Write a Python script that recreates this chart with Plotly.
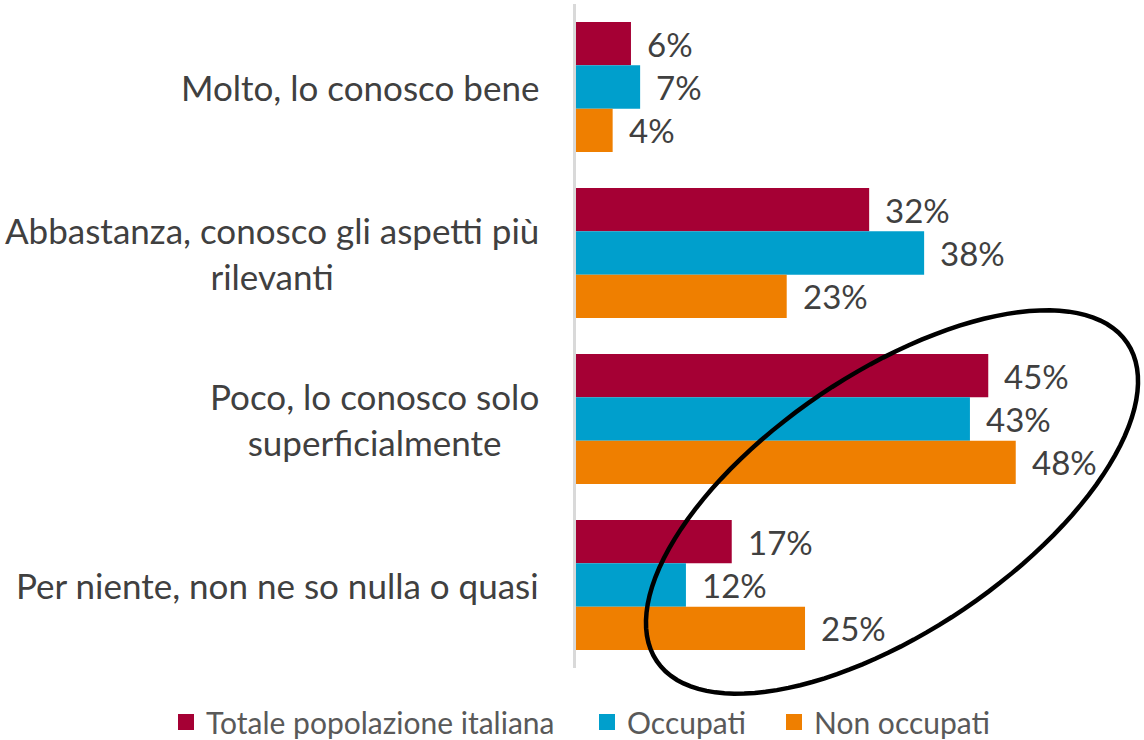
import numpy as np
import plotly.graph_objects as go

categories = ["Molto, lo conosco bene",
              "Abbastanza, conosco gli aspetti più<br>rilevanti",
              "Poco, lo conosco solo<br>superficialmente",
              "Per niente, non ne so nulla o quasi"]
series_names = ["Totale popolazione italiana", "Occupati", "Non occupati"]
totale = [6, 32, 45, 17]
occupati = [7, 38, 43, 12]
non_occupati = [4, 23, 48, 25]
colors = ["#A50034", "#009FCC", "#EF7F00"]

W, H = 1144, 740
L, R, T, B = 576, 0, 4, 72
PW, PH = W - L - R, H - T - B
XMAX = 62
FONT = "Lato"
TXT = "#404040"
LEG_TXT = "#595959"

def px_x(px):
    return (px - L) / PW

def px_y(py):
    return (H - B - py) / PH

fig = go.Figure()
legend_ids = ["legend", "legend2", "legend3"]
for name, vals, col in zip(series_names, [totale, occupati, non_occupati], colors):
    fig.add_trace(go.Bar(y=categories, x=vals, name=name, orientation="h", showlegend=False,
                         marker=dict(color=col, line=dict(width=0))))
for name, col, lid in zip(series_names, colors, legend_ids):
    fig.add_trace(go.Scatter(x=[None], y=[None], name=name, mode="markers", legend=lid,
                             marker=dict(color=col, symbol="square", size=18)))

annotations = []
n_series = 3
group_frac = 1 - 0.217
for si, vals in enumerate([totale, occupati, non_occupati]):
    for ci, v in enumerate(vals):
        off = (si - (n_series - 1) / 2) * group_frac / n_series
        annotations.append(dict(x=v, y=ci + off, xref="x", yref="y", text=f"{v}%",
                                showarrow=False, xanchor="left", yanchor="middle",
                                xshift=14, font=dict(family=FONT, size=33, color=TXT)))
for ci, c in enumerate(categories):
    annotations.append(dict(x=px_x(541), y=ci, xref="paper", yref="y", text=c,
                            showarrow=False, xanchor="right", yanchor="middle", align="center",
                            font=dict(family=FONT, size=35, color=TXT)))

# ellipse highlight (pixel geometry -> paper coords)
cx, cy, a, b, th = 892, 502, 284, 129, np.deg2rad(34.1)
t = np.linspace(0, 2 * np.pi, 121)
ex = cx + a * np.cos(th) * np.cos(t) - b * np.sin(th) * np.sin(t)
ey = cy - (a * np.sin(th) * np.cos(t) + b * np.cos(th) * np.sin(t))
path = "M " + " L ".join(f"{px_x(X):.5f},{px_y(Y):.5f}" for X, Y in zip(ex, ey)) + " Z"

leg_common = dict(orientation="h", xanchor="left", y=px_y(722), yanchor="middle",
                  font=dict(family=FONT, size=30, color=LEG_TXT), itemclick=False,
                  bgcolor="rgba(0,0,0,0)", itemsizing="trace")
fig.update_layout(
    width=W, height=H, margin=dict(l=L, r=R, t=T, b=B, autoexpand=False),
    paper_bgcolor="white", plot_bgcolor="white",
    barmode="group", bargap=0.217, bargroupgap=0,
    font=dict(family=FONT, color=TXT),
    xaxis=dict(range=[0, XMAX], visible=False, fixedrange=True),
    yaxis=dict(autorange="reversed", showticklabels=False, ticks="", showgrid=False,
               showline=True, linecolor="#D9D9D9", linewidth=3, zeroline=False, fixedrange=True),
    legend=dict(x=px_x(166), **leg_common),
    legend2=dict(x=px_x(587), **leg_common),
    legend3=dict(x=px_x(774), **leg_common),
    annotations=annotations,
    shapes=[dict(type="path", path=path, xref="paper", yref="paper",
                 line=dict(color="black", width=4.5), fillcolor="rgba(0,0,0,0)", layer="above")],
    showlegend=True,
)
fig.write_html("out.html", config={"displayModeBar": False},
               post_script="document.body.style.margin='0';document.body.style.overflow='hidden';")
